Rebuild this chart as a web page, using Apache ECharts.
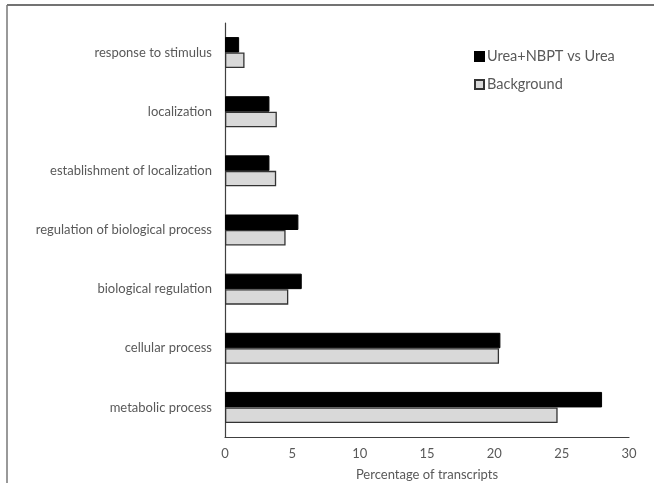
<!DOCTYPE html>
<html>
<head>
<meta charset="utf-8">
<script src="https://cdn.jsdelivr.net/npm/echarts@6/dist/echarts.min.js"></script>
<style>html,body{margin:0;padding:0;background:#fff}#c{width:654px;height:483px}</style>
</head>
<body>
<div id="c"></div>
<script>
const categories = ["metabolic process","cellular process","biological regulation","regulation of biological process","establishment of localization","localization","response to stimulus"];
const seriesNames = ["Urea+NBPT vs Urea","Background"];
const ureaNBPT = [28.0, 20.45, 5.7, 5.45, 3.3, 3.3, 1.05];
const background = [24.7, 20.35, 4.7, 4.5, 3.8, 3.85, 1.45];
const xTicks = [0,5,10,15,20,25,30];

const FONT = "Lato";
const chart = echarts.init(document.getElementById('c'));
chart.setOption({
  animation:false,
  backgroundColor:'#fff',
  textStyle:{fontFamily:FONT},
  graphic:[
    {type:'line', shape:{x1:7,y1:5,x2:654,y2:5}, style:{stroke:'#444',lineWidth:1.5}},
    {type:'line', shape:{x1:7,y1:5,x2:7,y2:483}, style:{stroke:'#777',lineWidth:1.5}}
  ],
  grid:{left:225,right:25,top:23,bottom:46,containLabel:false,outerBoundsMode:'none'},
  legend:{
    orient:'vertical', left:469, top:44, itemWidth:9, itemHeight:9, itemGap:13,
    icon:'rect',
    textStyle:{fontFamily:FONT,fontSize:14.5,color:'#595959',padding:[0,0,0,-2]},
    data:seriesNames
  },
  xAxis:{
    type:'value', min:xTicks[0], max:xTicks[xTicks.length-1], interval:5,
    name:'Percentage of transcripts', nameLocation:'middle', nameGap:31,
    nameTextStyle:{fontFamily:FONT,fontSize:13,color:'#595959'},
    axisLine:{show:true,lineStyle:{color:'#404040',width:1.2}},
    axisTick:{show:false},
    splitLine:{show:false},
    axisLabel:{fontFamily:FONT,fontSize:13,color:'#595959',margin:10}
  },
  yAxis:{
    type:'category', data:categories,
    axisLine:{show:true,lineStyle:{color:'#404040',width:1.2}},
    axisTick:{show:false},
    axisLabel:{fontFamily:FONT,fontSize:13,color:'#595959',margin:13}
  },
  series:[
    {name:seriesNames[0], type:'bar', data:ureaNBPT, barWidth:15.5, barGap:'0%',
     itemStyle:{color:'#000000',borderColor:'#000',borderWidth:1}},
    {name:seriesNames[1], type:'bar', data:background, barWidth:15.5, barGap:'0%',
     itemStyle:{color:'#d9d9d9',borderColor:'#333',borderWidth:1.3}}
  ]
});
</script>
</body>
</html>
